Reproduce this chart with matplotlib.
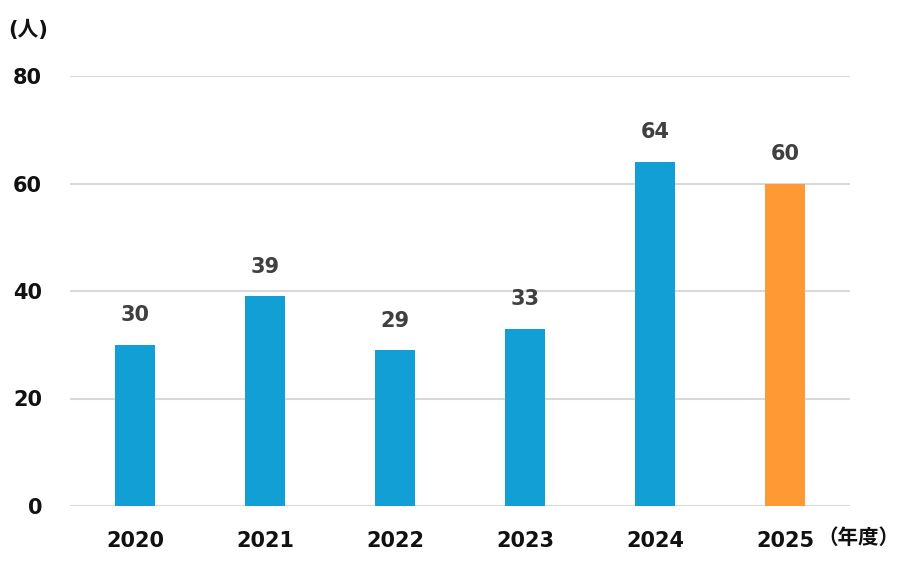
import matplotlib.pyplot as plt

plt.rcParams['font.family'] = ['DejaVu Sans', 'Noto Sans CJK JP']

years = ['2020', '2021', '2022', '2023', '2024', '2025']
counts = [30, 39, 29, 33, 64, 60]
colors = ['#119fd6'] * 5 + ['#ff9933']

fig = plt.figure(figsize=(9, 5.7), dpi=100)
ax = fig.add_axes([70 / 900, 64 / 570, 780 / 900, 430 / 570])

x = range(len(years))
ax.bar(x, counts, width=0.31, color=colors, zorder=3)

# 値ラベル
for xi, v in zip(x, counts):
    ax.annotate(str(v), (xi, v), xytext=(0, 17), textcoords='offset points',
                ha='center', va='baseline', fontsize=15, fontweight='bold', color='#404040')

ax.set_xlim(-0.5, len(years) - 0.5)
ax.set_ylim(0, 80)
ax.set_yticks([0, 20, 40, 60, 80])
ax.set_xticks(list(x))
ax.set_xticklabels(years)
ax.grid(axis='y', color='#d9d9d9', linewidth=1.5, zorder=0)
for s in ax.spines.values():
    s.set_visible(False)
ax.tick_params(length=0)
ax.tick_params(axis='y', pad=20, labelsize=15, labelcolor='#111111')
ax.tick_params(axis='x', pad=18, labelsize=15, labelcolor='#111111')
for lbl in ax.get_xticklabels() + ax.get_yticklabels():
    lbl.set_fontweight('bold')

fig.text(817 / 900, 1 - 538 / 570, '（年度）', ha='left', va='center',
         fontsize=14.8, fontweight='bold', color='#111111')
fig.text(8 / 900, 1 - 30 / 570, '(人)', ha='left', va='center',
         fontsize=15, fontweight='bold', color='#111111')

fig.savefig('out.png', dpi=100)
